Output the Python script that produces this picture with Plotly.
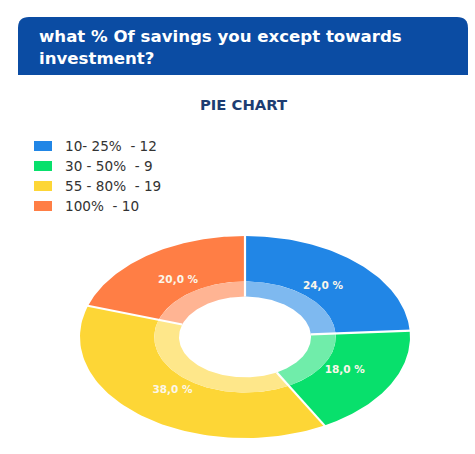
import numpy as np
import plotly.graph_objects as go

# Survey answers: share of savings expected to go towards investment
categories = ["10- 25%", "30 - 50%", "55 - 80%", "100%"]
counts = [12, 9, 19, 10]
colors = ["#2186e6", "#08e06c", "#fdd636", "#ff7e45"]

question = "what % Of savings you except towards<br>investment?"
chart_title = "PIE CHART"

FONT = "DejaVu Sans"
W, H = 475, 454
# Donut centre and semi-axes (pixels); the axes ranges below map unit radius onto them
CX, CY, RX, RY = 245, 337, 165, 101
R_HOLE, R_RING = 0.40, 0.55


def px(x):
    return x / W


def py(y):
    return 1 - y / H


def lighten(hex_color, f=0.42):
    r, g, b = (int(hex_color[i:i + 2], 16) for i in (1, 3, 5))
    r, g, b = (round(c + (255 - c) * f) for c in (r, g, b))
    return f"rgb({r},{g},{b})"


def band(t0, t1, r_in, r_out, n=80):
    t = np.linspace(t0, t1, n)
    xs = np.concatenate([r_out * np.sin(t), r_in * np.sin(t[::-1])])
    ys = np.concatenate([r_out * np.cos(t), r_in * np.cos(t[::-1])])
    return np.append(xs, xs[0]), np.append(ys, ys[0])


total = sum(counts)
shares = [c / total for c in counts]
bounds = np.concatenate([[0], np.cumsum(shares)]) * 2 * np.pi

fig = go.Figure()

for i, (cat, col) in enumerate(zip(categories, colors)):
    t0, t1 = bounds[i], bounds[i + 1]
    x, y = band(t0, t1, R_RING, 1.0)
    fig.add_trace(go.Scatter(x=x, y=y, fill="toself", fillcolor=col, mode="lines",
                             line=dict(width=0, color=col), hoverinfo="skip",
                             showlegend=False, name=cat))
    x, y = band(t0, t1, R_HOLE, R_RING)
    fig.add_trace(go.Scatter(x=x, y=y, fill="toself", fillcolor=lighten(col), mode="lines",
                             line=dict(width=0, color=lighten(col)), hoverinfo="skip",
                             showlegend=False))

# White separators between slices
for t in bounds[:-1]:
    fig.add_trace(go.Scatter(x=[R_HOLE * np.sin(t), 1.01 * np.sin(t)],
                             y=[R_HOLE * np.cos(t), 1.01 * np.cos(t)],
                             mode="lines", line=dict(color="white", width=2.2),
                             hoverinfo="skip", showlegend=False))

# Percentage labels inside the slices
mids = (bounds[:-1] + bounds[1:]) / 2
r_lab = 0.69
labels = [f"{s * 100:.1f} %".replace(".", ",") for s in shares]
fig.add_trace(go.Scatter(x=r_lab * np.sin(mids), y=r_lab * np.cos(mids), mode="text",
                         text=labels,
                         textfont=dict(family=FONT, size=10.5, color="#fbf6ea", weight="bold"),
                         hoverinfo="skip", showlegend=False))

shapes = []
annotations = []

# Header bar with rounded top corners
x0, x1, y0, y1, rr = 18, 468, 17, 75, 11
path = (f"M {px(x0)},{py(y1)} L {px(x0)},{py(y0 + rr)} "
        f"Q {px(x0)},{py(y0)} {px(x0 + rr)},{py(y0)} "
        f"L {px(x1 - rr)},{py(y0)} Q {px(x1)},{py(y0)} {px(x1)},{py(y0 + rr)} "
        f"L {px(x1)},{py(y1)} Z")
shapes.append(dict(type="path", xref="paper", yref="paper", path=path,
                   fillcolor="#0b4ca3", line=dict(width=0), layer="below"))
annotations.append(dict(xref="paper", yref="paper", x=px(37), y=py(47),
                        xanchor="left", yanchor="middle", align="left", showarrow=False,
                        text=question,
                        font=dict(family=FONT, size=16.6, color="white", weight="bold")))
annotations.append(dict(xref="paper", yref="paper", x=px(244), y=py(104), xanchor="center",
                        yanchor="middle", showarrow=False, text=chart_title,
                        font=dict(family=FONT, size=14.8, color="#1d3d72", weight="bold")))

# Legend swatches and entries
for i, (cat, cnt, col) in enumerate(zip(categories, counts, colors)):
    yc = 146 + 20 * i
    shapes.append(dict(type="rect", xref="paper", yref="paper", x0=px(34), x1=px(52),
                       y0=py(yc + 5), y1=py(yc - 5), fillcolor=col, line=dict(width=0)))
    annotations.append(dict(xref="paper", yref="paper", x=px(63), y=py(yc), xanchor="left",
                            yanchor="middle", showarrow=False,
                            text=f"{cat}\u00a0 - {cnt}",
                            font=dict(family=FONT, size=13.6, color="#333333")))

fig.update_layout(
    width=W, height=H, margin=dict(l=0, r=0, t=0, b=0),
    paper_bgcolor="white", plot_bgcolor="white",
    xaxis=dict(range=[-CX / RX, (W - CX) / RX], visible=False, fixedrange=True),
    yaxis=dict(range=[-(H - CY) / RY, CY / RY], visible=False, fixedrange=True),
    shapes=shapes, annotations=annotations, showlegend=False,
)

fig.write_html("out.html")
